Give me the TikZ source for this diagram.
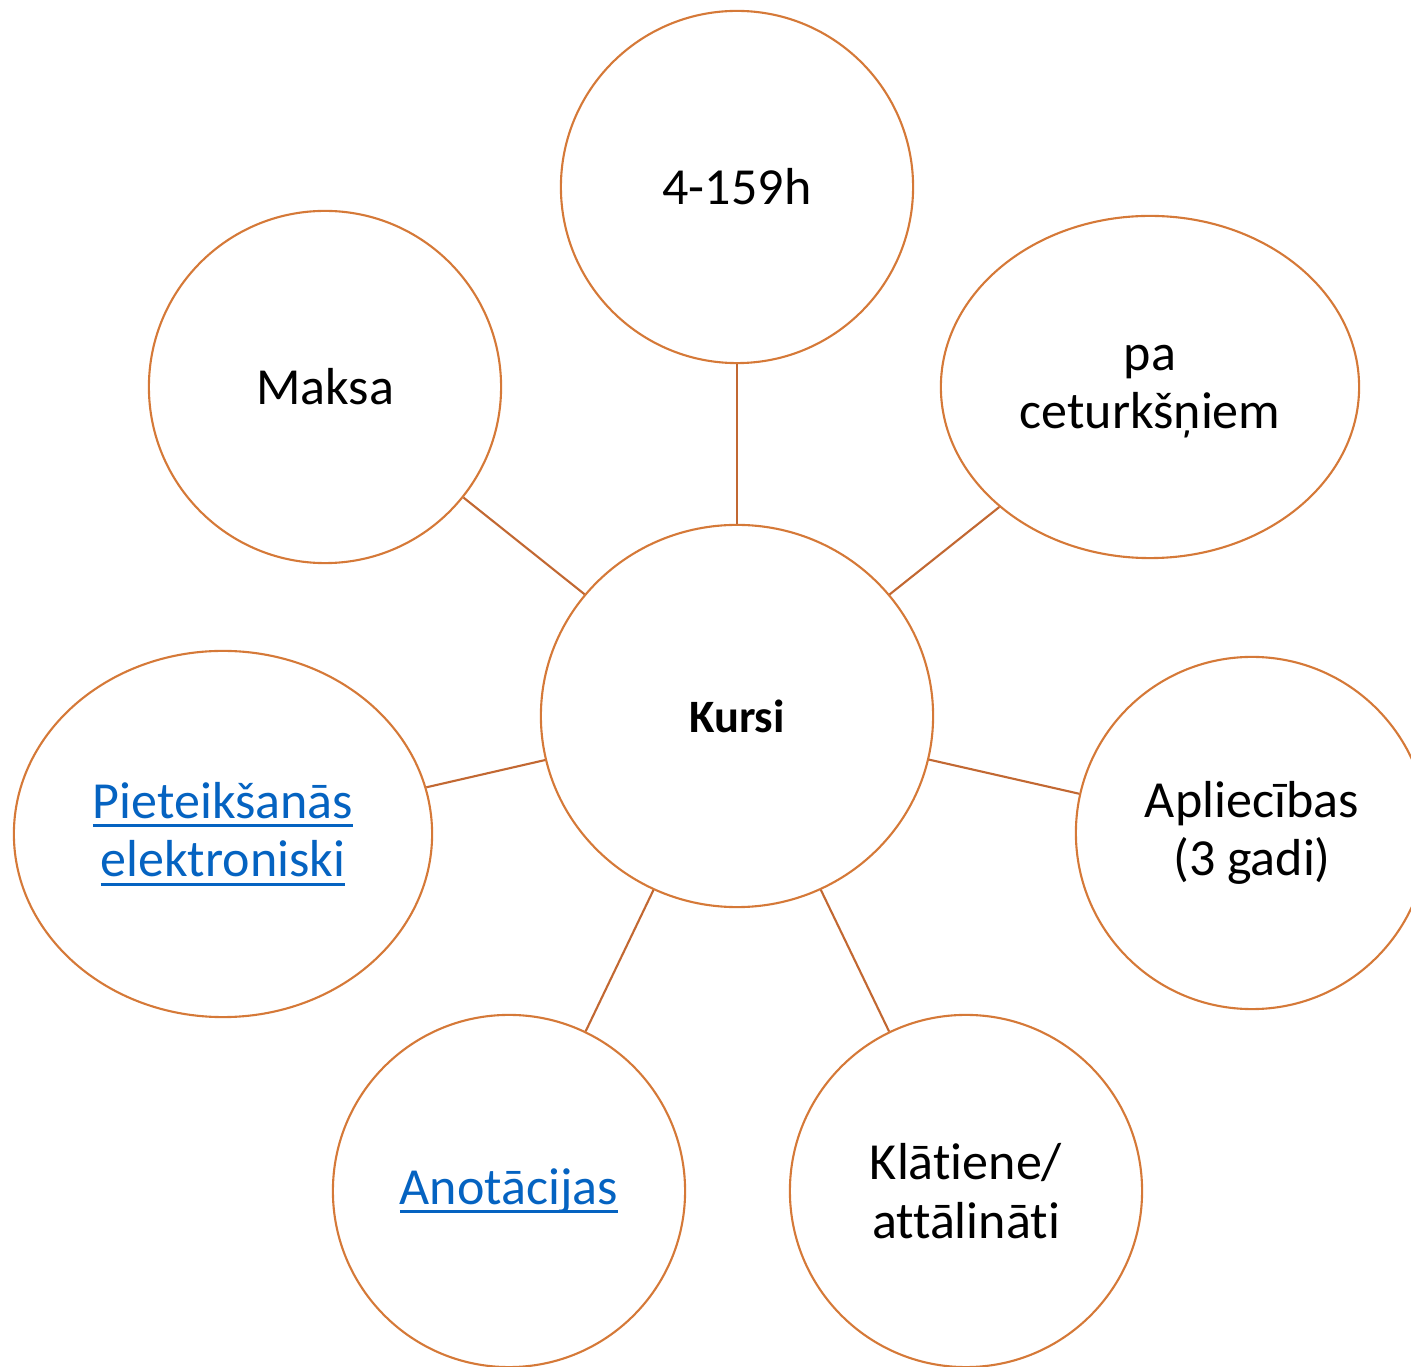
\documentclass[tikz,border=0pt]{standalone}
\usepackage{fontspec}
\usepackage{xcolor}
\usepackage{tikz}
\usetikzlibrary{shapes.geometric}
\setmainfont[Ligatures=NoCommon]{Carlito}
\definecolor{bubbleorange}{RGB}{213,121,56}
\definecolor{spokebrown}{RGB}{194,104,50}
\definecolor{linkblue}{RGB}{5,99,193}
\newcommand{\weblink}[1]{\textcolor{linkblue}{\setbox0\hbox{#1}\rlap{\rule[-0.17em]{\wd0}{0.055em}}\box0}}

\begin{document}
\begin{tikzpicture}[x=0.01cm,y=-0.01cm,
        bubble/.style={ellipse,draw=bubbleorange,line width=0.6pt,inner sep=0pt,
            align=center,font=\fontsize{14.8}{16.6}\selectfont},
        spoke/.style={draw=spokebrown,line width=0.6pt}]
                % page frame
                \clip (0,0) rectangle (1411,1367);
                \useasboundingbox (0,0) rectangle (1411,1367);

                % centre
                \node[bubble,minimum width=3.92cm,minimum height=3.82cm,
                    font=\fontsize{13.2}{15}\selectfont\bfseries] (kursi) at (737,716) {Kursi};

                % outer bubbles
                \node[bubble,minimum width=3.52cm,minimum height=3.52cm] (hours) at (737,187) {4-159h};
                \node[bubble,minimum width=3.52cm,minimum height=3.52cm] (maksa) at (325,387) {Maksa};
                \node[bubble,minimum width=4.18cm,minimum height=3.42cm,text depth=0pt] (quarters) at (1150,387) {pa\\ceturkšņiem};
                \node[bubble,minimum width=3.52cm,minimum height=3.52cm] (certs) at (1252,833) {Apliecības\\(3 gadi)};
                \node[bubble,minimum width=3.52cm,minimum height=3.52cm] (mode) at (966,1191) {Klātiene/\\attālināti};
                \node[bubble,minimum width=3.52cm,minimum height=3.52cm] (notes) at (509,1191) {\weblink{Anotācijas}};
                \node[bubble,minimum width=4.18cm,minimum height=3.66cm] (apply) at (223,834) {\weblink{Pieteikšanās}\\\weblink{elektroniski}};

                % spokes
                \draw[spoke] (kursi) -- (hours);
                \draw[spoke] (kursi) -- (maksa);
                \draw[spoke] (kursi) -- (quarters);
                \draw[spoke] (kursi) -- (certs);
                \draw[spoke] (kursi) -- (mode);
                \draw[spoke] (kursi) -- (notes);
                \draw[spoke] (kursi) -- (apply);
\end{tikzpicture}
\end{document}
